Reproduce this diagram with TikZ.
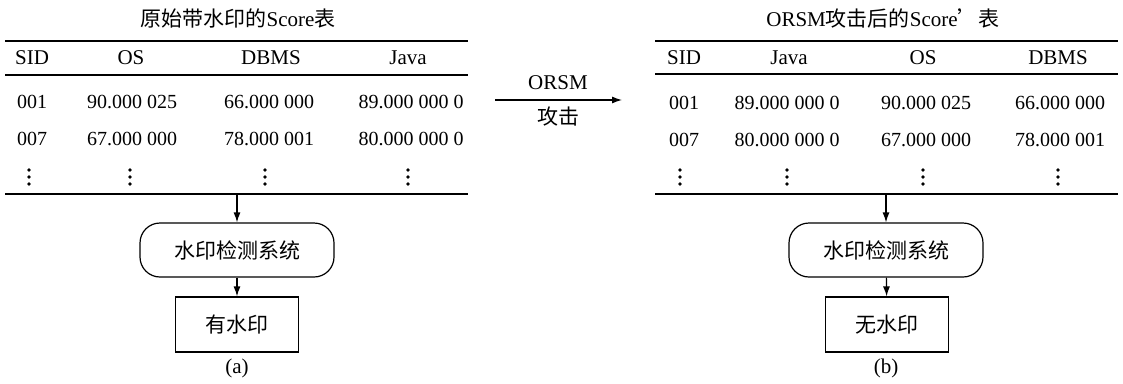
\documentclass[tikz,border=0pt]{standalone}
\usepackage{fontspec}
\setmainfont{Liberation Serif}
\newfontfamily\cjk{Noto Sans CJK SC}
\usetikzlibrary{arrows.meta}
\begin{document}
\begin{tikzpicture}[x=1pt,y=-1pt,
  cell/.style={font=\fontsize{20}{22}\selectfont, inner sep=0pt, anchor=center},
  head/.style={font=\fontsize{21}{24}\selectfont, inner sep=0pt, anchor=center},
  ttl/.style={font=\fontsize{21}{24}\selectfont, inner sep=0pt, anchor=center},
  vdotsnode/.style={inner sep=0pt, minimum width=4pt, minimum height=18pt,
    path picture={
      \fill ([yshift=7pt]path picture bounding box.center) circle (1.8pt);
      \fill (path picture bounding box.center) circle (1.8pt);
      \fill ([yshift=-7pt]path picture bounding box.center) circle (1.8pt);}},
  thick rule/.style={line width=2.6pt},
  thin rule/.style={line width=1.5pt},
  arr/.style={line width=1.2pt, -{Latex[length=10pt,width=7pt]}},
  sysbox/.style={draw, line width=1.2pt, rounded corners=20pt, minimum width=194pt, minimum height=54pt, inner sep=0pt, font=\fontsize{21}{24}\selectfont\cjk},
  resbox/.style={draw, line width=1.2pt, minimum width=123pt, minimum height=55pt, inner sep=0pt, font=\fontsize{21}{24}\selectfont\cjk},
]
\useasboundingbox (0,0) rectangle (1123,383);

% ---------- left table ----------
\node[ttl] (titleA) at (238,18) {{\cjk 原始带水印的}Score{\cjk 表}};
\draw[thick rule] (5,41) -- (468,41);
\draw[thin rule] (5,75) -- (468,75);
\draw[thick rule] (5,194) -- (468,194);
\node[head] (aH1) at (32,58) {SID};
\node[head] (aH2) at (131,58) {OS};
\node[head] (aH3) at (271,58) {DBMS};
\node[head] (aH4) at (408,58) {Java};
\node[cell] (a11) at (32,102) {001};
\node[cell] (a12) at (132,102) {90.000 025};
\node[cell] (a13) at (269,102) {66.000 000};
\node[cell] (a14) at (411,102) {89.000 000 0};
\node[cell] (a21) at (32,139) {007};
\node[cell] (a22) at (132,139) {67.000 000};
\node[cell] (a23) at (269,139) {78.000 001};
\node[cell] (a24) at (411,139) {80.000 000 0};
\node[vdotsnode] (a31) at (29,177) {};
\node[vdotsnode] (a32) at (130,177) {};
\node[vdotsnode] (a33) at (265,177) {};
\node[vdotsnode] (a34) at (408,177) {};

\coordinate (tA) at (237,194);
\node[sysbox] (sysA) at (237,250) {水印检测系统};
\node[resbox] (resA) at (237,324.5) {有水印};
\node[head] (capA) at (237,368) {(a)};
\draw[arr] (tA) -- (sysA);
\draw[arr] (sysA) -- (resA);

% ---------- attack arrow ----------
\coordinate (atkL) at (495,100);
\coordinate (atkR) at (622,100);
\draw[arr] (atkL) -- (atkR);
\node[head] (atk1) at (558,83) {ORSM};
\node[head, font=\fontsize{21}{24}\selectfont\cjk] (atk2) at (558,117) {攻击};

% ---------- right table ----------
\node[ttl] (titleB) at (883,18) {ORSM{\cjk 攻击后的}Score{\cjk ’表}};
\draw[thick rule] (655,41) -- (1118,41);
\draw[thin rule] (655,74) -- (1118,74);
\draw[thick rule] (655,194) -- (1118,194);
\node[head] (bH1) at (684,58) {SID};
\node[head] (bH2) at (789,58) {Java};
\node[head] (bH3) at (923,58) {OS};
\node[head] (bH4) at (1058,58) {DBMS};
\node[cell] (b11) at (684,103) {001};
\node[cell] (b12) at (787,103) {89.000 000 0};
\node[cell] (b13) at (926,103) {90.000 025};
\node[cell] (b14) at (1060,103) {66.000 000};
\node[cell] (b21) at (684,140) {007};
\node[cell] (b22) at (787,140) {80.000 000 0};
\node[cell] (b23) at (926,140) {67.000 000};
\node[cell] (b24) at (1060,140) {78.000 001};
\node[vdotsnode] (b31) at (680,177) {};
\node[vdotsnode] (b32) at (787,177) {};
\node[vdotsnode] (b33) at (923,177) {};
\node[vdotsnode] (b34) at (1058,177) {};

\coordinate (tB) at (886,194);
\node[sysbox] (sysB) at (886,250) {水印检测系统};
\node[resbox] (resB) at (887,324.5) {无水印};
\node[head] (capB) at (886,368) {(b)};
\draw[arr] (tB) -- (sysB);
\draw[arr] (sysB) -- (resB);
\end{tikzpicture}
\end{document}
